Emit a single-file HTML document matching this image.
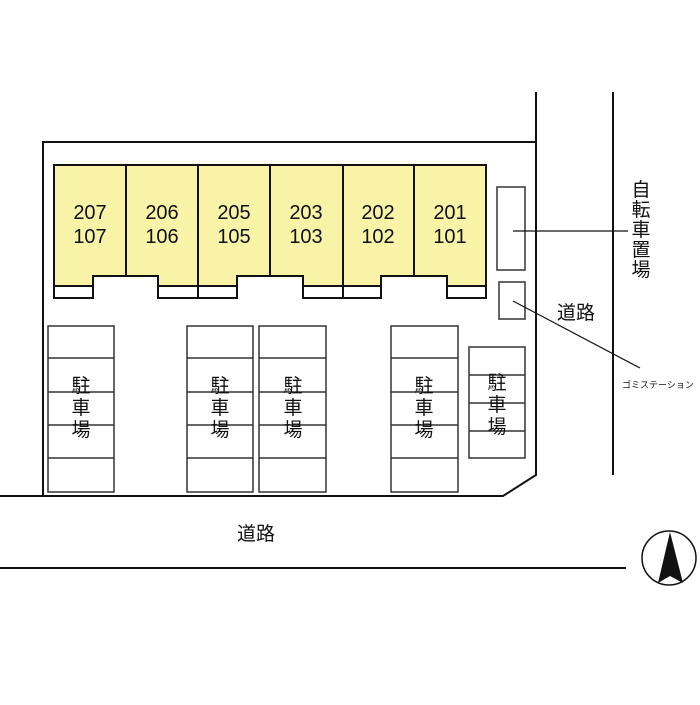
<!DOCTYPE html>
<html><head><meta charset="utf-8"><style>
body{margin:0;background:#fff}
svg text{font-family:"Liberation Sans","Noto Sans CJK JP",sans-serif;fill:#111}
</style></head><body>
<svg width="700" height="700" xmlns="http://www.w3.org/2000/svg">
<rect width="700" height="700" fill="#fff"/>
<g stroke="#111" stroke-width="2" fill="none">
<polyline points="536,92 536,475 503,496 0,496"/>
<polyline points="43,496 43,142 536,142"/>
<line x1="0" y1="568" x2="626" y2="568"/>
<line x1="613" y1="92" x2="613" y2="475"/>
</g>
<rect x="54" y="165" width="432" height="121" fill="#f8f3a6" stroke="#111" stroke-width="2"/>
<g stroke="#111" stroke-width="2">
<line x1="126" y1="165" x2="126" y2="276"/><line x1="198" y1="165" x2="198" y2="298"/>
<line x1="270" y1="165" x2="270" y2="276"/><line x1="343" y1="165" x2="343" y2="298"/>
<line x1="414" y1="165" x2="414" y2="276"/>
</g>
<g fill="#fff" stroke="#111" stroke-width="2">
<rect x="54" y="286" width="39" height="12"/>
<rect x="158" y="286" width="79" height="12"/>
<rect x="303" y="286" width="78" height="12"/>
<rect x="447" y="286" width="39" height="12"/>
<polyline points="93,298 93,276 158,276 158,298"/>
<polyline points="237,298 237,276 303,276 303,298"/>
<polyline points="381,298 381,276 447,276 447,298"/>
</g>
<line x1="198" y1="286" x2="198" y2="298" stroke="#111" stroke-width="2"/>
<line x1="343" y1="286" x2="343" y2="298" stroke="#111" stroke-width="2"/>
<g font-size="20" text-anchor="middle">
<text x="90" y="219">207</text><text x="90" y="243">107</text>
<text x="162" y="219">206</text><text x="162" y="243">106</text>
<text x="234" y="219">205</text><text x="234" y="243">105</text>
<text x="306" y="219">203</text><text x="306" y="243">103</text>
<text x="378" y="219">202</text><text x="378" y="243">102</text>
<text x="450" y="219">201</text><text x="450" y="243">101</text>
</g>
<g fill="#fff" stroke="#333" stroke-width="1.5">
<rect x="497" y="187" width="28" height="83"/>
<rect x="499" y="282" width="26" height="37"/>
</g>
<line x1="513" y1="231" x2="628" y2="231" stroke="#111" stroke-width="1.2"/>
<line x1="513" y1="301" x2="640" y2="368" stroke="#111" stroke-width="1.2"/>
<text x="622" y="388" font-size="9">ゴミステーション</text>
<text x="557" y="319" font-size="19">道路</text>
<g font-size="19" text-anchor="middle">
<text x="641" y="196">自</text><text x="641" y="216">転</text><text x="641" y="236">車</text><text x="641" y="256">置</text><text x="641" y="276">場</text>
</g>
<g fill="#fff" stroke="#333" stroke-width="1.5">
<rect x="48" y="326" width="66" height="166"/>
<rect x="187" y="326" width="66" height="166"/>
<rect x="259" y="326" width="67" height="166"/>
<rect x="391" y="326" width="67" height="166"/>
<rect x="469" y="347" width="56" height="111"/>
</g>
<g stroke="#333" stroke-width="1.5">
<path d="M48 358H114M48 392H114M48 425H114M48 458H114"/>
<path d="M187 358H253M187 392H253M187 425H253M187 458H253"/>
<path d="M259 358H326M259 392H326M259 425H326M259 458H326"/>
<path d="M391 358H458M391 392H458M391 425H458M391 458H458"/>
<path d="M469 375H525M469 403H525M469 431H525"/>
</g>
<g font-size="19" text-anchor="middle">
<text x="81" y="392">駐</text><text x="81" y="414">車</text><text x="81" y="436">場</text>
<text x="220" y="392">駐</text><text x="220" y="414">車</text><text x="220" y="436">場</text>
<text x="293" y="392">駐</text><text x="293" y="414">車</text><text x="293" y="436">場</text>
<text x="424" y="392">駐</text><text x="424" y="414">車</text><text x="424" y="436">場</text>
<text x="497" y="389">駐</text><text x="497" y="411">車</text><text x="497" y="433">場</text>
</g>
<text x="237" y="540" font-size="19">道路</text>
<circle cx="669" cy="558" r="27" fill="#fff" stroke="#111" stroke-width="1.5"/>
<polygon points="670,532 658,583 670,576 683,583" fill="#111"/>
</svg>
</body></html>
